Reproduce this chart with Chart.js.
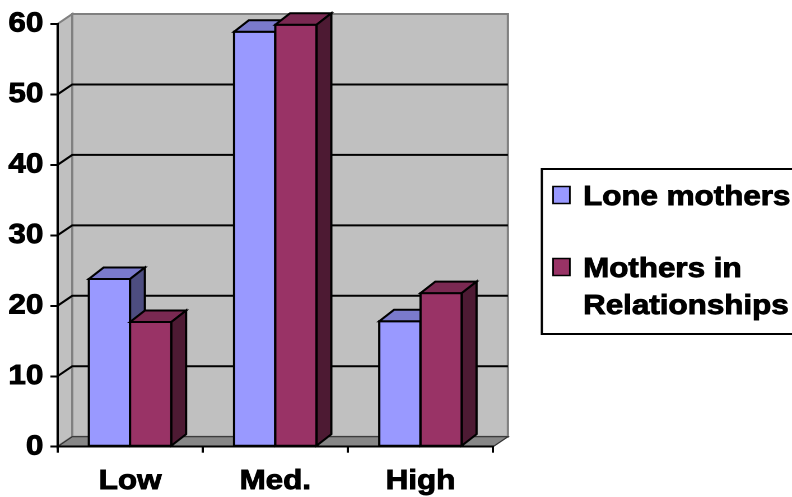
<!DOCTYPE html>
<html>
<head>
<meta charset="utf-8">
<title>Lone mothers vs mothers in relationships</title>
<script src="https://cdn.jsdelivr.net/npm/chart.js@4/dist/chart.umd.min.js"></script>
<style>
    html, body { margin: 0; padding: 0; background: #fff; overflow: hidden; }
    /* the reference is stretched sideways, so draw narrow and widen it */
    #wrap { width: 707px; height: 497px; transform: scaleX(1.1202); transform-origin: 0 0; }
</style>
</head>
<body>
<div id="wrap"><canvas id="chart"></canvas></div>
<script>
const categories = ['Low', 'Med.', 'High'];
const seriesNames = ['Lone mothers', 'Mothers in Relationships'];
const loneMothers = [23.8, 58.9, 17.8];
const mothersInRelationships = [17.7, 59.9, 21.8];
const yTicks = [0, 10, 20, 30, 40, 50, 60];

const frontColors = ['#9999ff', '#993366'];
const topColors = ['#7a7acc', '#7a2952'];
const sideColors = ['#4d4d80', '#4d1a33'];

const FONT = '"Liberation Sans", Arial, sans-serif';
const TEXT_STROKE = 0.9;
const DEPTH_X = 13.2;
const WALL_DY = -10;
const BAR_DY = -11.5;

function poly(ctx, pts, fill, stroke, width) {
    ctx.beginPath();
    ctx.moveTo(pts[0][0], pts[0][1]);
    for (let i = 1; i < pts.length; i++) {
        ctx.lineTo(pts[i][0], pts[i][1]);
    }
    ctx.closePath();
    if (fill) {
        ctx.fillStyle = fill;
        ctx.fill();
    }
    if (stroke) {
        ctx.strokeStyle = stroke;
        ctx.lineWidth = width;
        ctx.stroke();
    }
}

// back wall, side wall, floor and the slanted grid lines
const wallsPlugin = {
    id: 'walls',
    beforeDraw(chart) {
        const { ctx, chartArea: a } = chart;
        const y = chart.scales.y;
        const dx = DEPTH_X, dy = WALL_DY;
        ctx.save();
        ctx.lineJoin = 'miter';
        poly(ctx, [[a.left + dx, a.top + dy], [a.right + dx, a.top + dy], [a.right + dx, a.bottom + dy], [a.left + dx, a.bottom + dy]], '#c0c0c0', '#808080', 2);
        poly(ctx, [[a.left, a.top], [a.left + dx, a.top + dy], [a.left + dx, a.bottom + dy], [a.left, a.bottom]], '#c0c0c0', '#808080', 2);
        poly(ctx, [[a.left, a.bottom], [a.left + dx, a.bottom + dy], [a.right + dx, a.bottom + dy], [a.right, a.bottom]], '#878787', '#333333', 1.2);

        ctx.strokeStyle = '#000';
        ctx.lineWidth = 2;
        yTicks.forEach(function (v) {
            if (v <= yTicks[0] || v >= yTicks[yTicks.length - 1]) {
                return;
            }
            const py = y.getPixelForValue(v);
            ctx.beginPath();
            ctx.moveTo(a.left, py);
            ctx.lineTo(a.left + dx, py + dy);
            ctx.lineTo(a.right + dx, py + dy);
            ctx.stroke();
        });
        ctx.restore();
    }
};

// redraw every bar as a box: front, top and right side
const boxesPlugin = {
    id: 'boxes',
    afterDatasetsDraw(chart) {
        const { ctx } = chart;
        const dx = DEPTH_X, dy = BAR_DY;
        ctx.save();
        ctx.lineJoin = 'miter';
        for (let j = 0; j < categories.length; j++) {
            for (let i = 0; i < chart.data.datasets.length; i++) {
                const bar = chart.getDatasetMeta(i).data[j];
                if (!bar) {
                    continue;
                }
                const x0 = bar.x - bar.width / 2;
                const x1 = bar.x + bar.width / 2;
                const top = bar.y;
                const base = bar.base;
                poly(ctx, [[x0, top], [x1, top], [x1, base], [x0, base]], frontColors[i], '#000', 2);
                poly(ctx, [[x0, top], [x0 + dx, top + dy], [x1 + dx, top + dy], [x1, top]], topColors[i], '#000', 2);
                poly(ctx, [[x1, top], [x1 + dx, top + dy], [x1 + dx, base + dy], [x1, base]], sideColors[i], '#000', 2);
            }
        }
        ctx.restore();
    }
};

function wrapWords(ctx, text, maxWidth) {
    const words = text.split(' ');
    const lines = [];
    let line = '';
    words.forEach(function (w) {
        const test = line ? line + ' ' + w : w;
        if (line && ctx.measureText(test).width > maxWidth) {
            lines.push(line);
            line = w;
        } else {
            line = test;
        }
    });
    lines.push(line);
    return lines;
}

// boxed legend on the right, cut by the edge of the picture like the original
const legendPlugin = {
    id: 'boxLegend',
    afterDraw(chart) {
        const { ctx, chartArea: a } = chart;
        const left = a.right + DEPTH_X + 30.3;
        const top = 169;
        const lineH = 37;
        ctx.save();
        ctx.font = 'bold 28px ' + FONT;
        ctx.textBaseline = 'alphabetic';
        ctx.textAlign = 'left';

        let baseline = top + 36;
        const items = chart.data.datasets.map(function (ds, i) {
            const lines = wrapWords(ctx, ds.label, 200);
            const item = { lines: lines, baseline: baseline, color: frontColors[i] };
            baseline += lines.length * lineH + 35;
            return item;
        });
        const last = items[items.length - 1];
        const bottom = last.baseline + (last.lines.length - 1) * lineH + 20;

        ctx.strokeStyle = '#000';
        ctx.lineWidth = 2;
        ctx.strokeRect(left, top, chart.width - left + 20, bottom - top);

        items.forEach(function (item) {
            ctx.fillStyle = item.color;
            ctx.fillRect(left + 10, item.baseline - 18.5, 15, 17);
            ctx.lineWidth = 1.5;
            ctx.strokeRect(left + 10, item.baseline - 18.5, 15, 17);
            ctx.fillStyle = '#000';
            ctx.lineWidth = TEXT_STROKE;
            item.lines.forEach(function (t, k) {
                ctx.fillText(t, left + 36.8, item.baseline + k * lineH);
                ctx.strokeText(t, left + 36.8, item.baseline + k * lineH);
            });
        });
        ctx.restore();
    }
};

new Chart(document.getElementById('chart'), {
    type: 'bar',
    data: {
        labels: categories,
        datasets: [
            { label: seriesNames[0], data: loneMothers, backgroundColor: frontColors[0], borderWidth: 0 },
            { label: seriesNames[1], data: mothersInRelationships, backgroundColor: frontColors[1], borderWidth: 0 }
        ]
    },
    options: {
        responsive: true,
        maintainAspectRatio: false,
        animation: false,
        devicePixelRatio: 2,
        events: [],
        layout: { padding: { top: 24, left: 0, bottom: 0, right: 266.8 } },
        datasets: { bar: { categoryPercentage: 0.568, barPercentage: 1.0 } },
        plugins: {
            legend: { display: false },
            tooltip: { enabled: false }
        },
        scales: {
            x: {
                afterFit: function (scale) { scale.height = 50.3; },
                grid: { drawOnChartArea: false, color: '#000', lineWidth: 2, tickLength: 6 },
                border: { color: '#000', width: 2 },
                ticks: {
                    color: '#000', padding: 12, maxRotation: 0,
                    textStrokeColor: '#000', textStrokeWidth: TEXT_STROKE,
                    font: { family: FONT, size: 28, weight: 'bold' }
                }
            },
            y: {
                min: yTicks[0],
                max: yTicks[yTicks.length - 1],
                afterFit: function (scale) { scale.width = 51.3; },
                afterBuildTicks: function (scale) { scale.ticks = yTicks.map(function (v) { return { value: v }; }); },
                grid: { drawOnChartArea: false, color: '#000', lineWidth: 2, tickLength: 6.3 },
                border: { color: '#000', width: 2 },
                ticks: {
                    color: '#000', padding: 6.3,
                    textStrokeColor: '#000', textStrokeWidth: TEXT_STROKE,
                    font: { family: FONT, size: 28, weight: 'bold' }
                }
            }
        }
    },
    plugins: [wallsPlugin, boxesPlugin, legendPlugin]
});
</script>
</body>
</html>
